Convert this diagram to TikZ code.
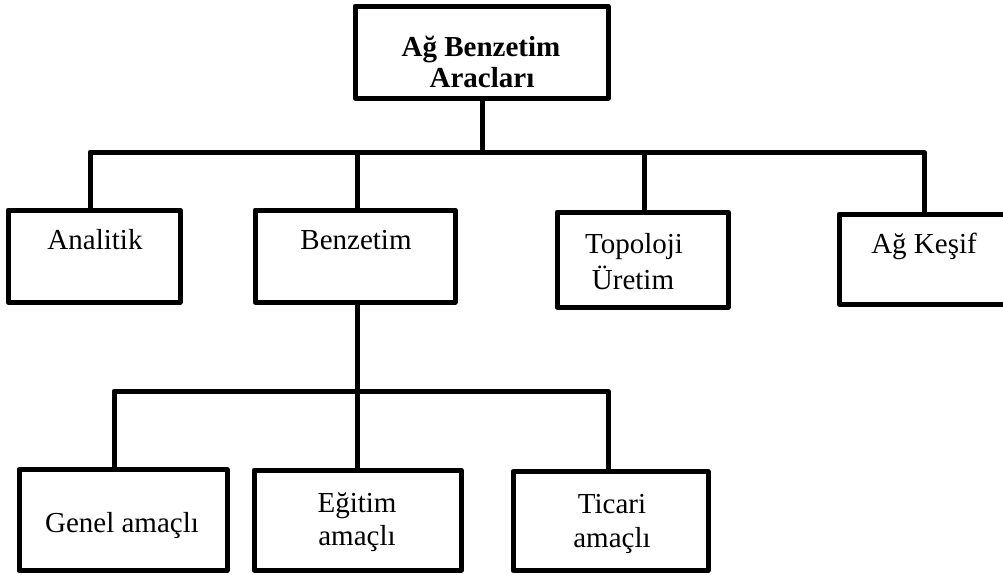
\documentclass[tikz,border=0pt]{standalone}
\usepackage{fontspec}
\setmainfont{Liberation Serif}
\begin{document}
\begin{tikzpicture}[x=1pt,y=-1pt,
  line width=5pt, line join=round,
  box/.style={draw=black, line width=5pt, rectangle, inner sep=0pt, outer sep=0pt},
  lbl/.style={anchor=base, inner sep=0pt, font=\fontsize{29}{35}\selectfont},
  lblb/.style={lbl, font=\fontsize{29}{35}\selectfont\bfseries},
  wire/.style={draw=black, line width=5pt, line join=round}]
\useasboundingbox (0,0) rectangle (1003,574);
\clip (0,0) rectangle (1003,574);

% boxes
\node[box, minimum width=253pt, minimum height=92pt]  (top)      at (481.5,52) {};
\node[box, minimum width=172pt, minimum height=92pt]  (analitik) at (94,256) {};
\node[box, minimum width=200pt, minimum height=92pt]  (benzetim) at (355,256) {};
\node[box, minimum width=171pt, minimum height=95pt]  (topoloji) at (642.5,259.5) {};
\node[box, minimum width=170pt, minimum height=90pt]  (kesif)    at (924,259) {};
\node[box, minimum width=208pt, minimum height=101pt] (genel)    at (123,520) {};
\node[box, minimum width=207pt, minimum height=100pt] (egitim)   at (357.5,520) {};
\node[box, minimum width=195pt, minimum height=99pt]  (ticari)   at (610.5,521) {};

% labels
\node[lblb] (topA) at (481,56) {Ağ Benzetim};
\node[lblb] (topB) at (482,87) {Aracları};
\node[lbl] (analitikT) at (95,249) {Analitik};
\node[lbl] (benzetimT) at (356,249) {Benzetim};
\node[lbl] (topolojiA) at (634,253) {Topoloji};
\node[lbl] (topolojiB) at (633,289) {Üretim};
\node[lbl] (kesifT) at (924,253) {Ağ Keşif};
\node[lbl] (genelT) at (122,532) {Genel amaçlı};
\node[lbl] (egitimA) at (357,512) {Eğitim};
\node[lbl] (egitimB) at (357,545) {amaçlı};
\node[lbl] (ticariA) at (612,513) {Ticari};
\node[lbl] (ticariB) at (612,547) {amaçlı};

% junction points
\coordinate (hub1) at (482,152);
\coordinate (b1L)  at (90,152);
\coordinate (b1R)  at (924,152);
\coordinate (d1B)  at (357,152);
\coordinate (d1T)  at (644,152);
\coordinate (hub2) at (357,391);
\coordinate (b2L)  at (114,391);
\coordinate (b2R)  at (608,391);

% first level
\draw[wire] (hub1 |- top.south) -- (hub1);
\draw[wire] (b1L |- analitik.north) -- (b1L) -- (b1R) -- (b1R |- kesif.north);
\draw[wire] (d1B) -- (d1B |- benzetim.north);
\draw[wire] (d1T) -- (d1T |- topoloji.north);

% second level
\draw[wire] (hub2 |- benzetim.south) -- (hub2 |- egitim.north);
\draw[wire] (b2L |- genel.north) -- (b2L) -- (b2R) -- (b2R |- ticari.north);
\end{tikzpicture}
\end{document}
